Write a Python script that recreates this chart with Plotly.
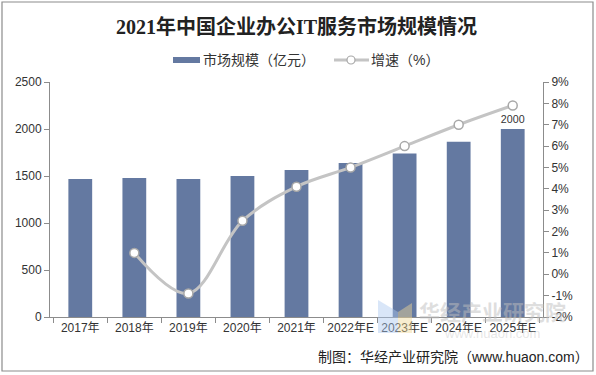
import plotly.graph_objects as go

# ---- data ----
years = ["2017年", "2018年", "2019年", "2020年", "2021年", "2022年E", "2023年E", "2024年E", "2025年E"]
market_size = [1468, 1480, 1468, 1500, 1563, 1637, 1740, 1864, 2000]   # 亿元
growth_rate = [None, 1.0, -0.9, 2.5, 4.1, 5.0, 6.0, 7.0, 7.9]          # %
left_ticks = [0, 500, 1000, 1500, 2000, 2500]
right_ticks = list(range(-2, 10))

W, H = 596, 375
L, R, T, B = 50, 53, 82, 58
PW, PH = W - L - R, H - T - B


def px(x):
    return (x - L) / PW


def py(y):
    return (H - B - y) / PH


bar_labels = ["" for _ in market_size[:-1]] + [str(market_size[-1])]

CJK = "Liberation Sans, Noto Sans CJK SC, sans-serif"

fig = go.Figure()
fig.add_trace(go.Bar(
    x=years, y=market_size, name="市场规模（亿元）",
    marker=dict(color="#6479a1", line=dict(width=0)),
    width=0.44,
    text=bar_labels, textposition="outside", cliponaxis=False,
    textfont=dict(size=12.5, color="#333333", family=CJK),
    showlegend=False, hoverinfo="skip",
))
fig.add_trace(go.Scatter(
    x=years, y=growth_rate, name="增速（%）", yaxis="y2",
    mode="lines+markers",
    line=dict(color="#c4c4c4", width=3, shape="spline", smoothing=1.0),
    marker=dict(symbol="circle", size=9, color="white",
                line=dict(color="#a8a8a8", width=1.5)),
    connectgaps=False, showlegend=False, cliponaxis=False, hoverinfo="skip",
))

shapes = []
annotations = []

# outer frame
shapes.append(dict(type="rect", xref="paper", yref="paper",
                   x0=px(2), x1=px(593), y0=py(2), y1=py(371),
                   line=dict(color="#8c8c8c", width=1.2), fillcolor="rgba(0,0,0,0)", layer="below"))

# watermark
shapes.append(dict(type="path", xref="paper", yref="paper",
                   path=f"M {px(378)},{py(300)} L {px(398)},{py(312)} L {px(398)},{py(333)} L {px(378)},{py(333)} Z",
                   fillcolor="rgba(170,200,240,0.45)", line=dict(width=0), layer="above"))
shapes.append(dict(type="path", xref="paper", yref="paper",
                   path=f"M {px(398)},{py(312)} L {px(412)},{py(303)} L {px(412)},{py(333)} L {px(398)},{py(333)} Z",
                   fillcolor="rgba(240,215,150,0.45)", line=dict(width=0), layer="above"))
annotations.append(dict(text="<b>华经产业研究院</b>", xref="paper", yref="paper",
                        x=px(492), y=py(312), showarrow=False, xanchor="center", yanchor="middle",
                        font=dict(size=21, color="rgba(190,190,190,0.5)", family=CJK)))
annotations.append(dict(text="www.huaon.com", xref="paper", yref="paper",
                        x=px(492), y=py(333), showarrow=False, xanchor="center", yanchor="middle",
                        font=dict(size=13, color="rgba(200,200,200,0.45)", family=CJK)))

# legend (custom)
shapes.append(dict(type="rect", xref="paper", yref="paper",
                   x0=px(173), x1=px(200), y0=py(57), y1=py(63),
                   fillcolor="#6479a1", line=dict(width=0)))
annotations.append(dict(text="市场规模（亿元）", xref="paper", yref="paper",
                        x=px(201), y=py(60), showarrow=False, xanchor="left", yanchor="middle",
                        font=dict(size=14, color="#333333", family=CJK)))
shapes.append(dict(type="line", xref="paper", yref="paper",
                   x0=px(334), x1=px(369), y0=py(60), y1=py(60),
                   line=dict(color="#c4c4c4", width=3)))
shapes.append(dict(type="circle", xref="paper", yref="paper",
                   x0=px(347), x1=px(355), y0=py(56), y1=py(64),
                   fillcolor="white", line=dict(color="#a8a8a8", width=1.2)))
annotations.append(dict(text="增速（%）", xref="paper", yref="paper",
                        x=px(369), y=py(60), showarrow=False, xanchor="left", yanchor="middle",
                        font=dict(size=14, color="#333333", family=CJK)))

# source
annotations.append(dict(text="制图：华经产业研究院（www.huaon.com）", xref="paper", yref="paper",
                        x=px(591), y=py(357), showarrow=False, xanchor="right", yanchor="middle",
                        font=dict(size=14, color="#222222", family=CJK)))

fig.update_layout(
    width=W, height=H,
    margin=dict(l=L, r=R, t=T, b=B, autoexpand=False),
    paper_bgcolor="white", plot_bgcolor="white",
    title=dict(text="<b>2021年中国企业办公IT服务市场规模情况</b>",
               x=0.5, xref="paper", xanchor="center",
               y=1 - 27 / H, yref="container", yanchor="middle",
               font=dict(size=20, color="#222222",
                         family="Liberation Serif, Noto Sans CJK SC, serif")),
    bargap=0.56,
    xaxis=dict(
        type="category", showline=True, linecolor="#8c8c8c", linewidth=1,
        ticks="outside", tickson="boundaries", ticklen=5, tickcolor="#8c8c8c",
        tickangle=0, automargin=False,
        tickfont=dict(size=12, color="#333333", family=CJK),
        showgrid=False, zeroline=False,
    ),
    yaxis=dict(
        range=[0, 2500], tickvals=left_ticks, showline=True, linecolor="#8c8c8c",
        ticks="outside", ticklen=5, tickcolor="#8c8c8c", automargin=False,
        tickfont=dict(size=12, color="#333333", family=CJK),
        showgrid=False, zeroline=False,
    ),
    yaxis2=dict(
        overlaying="y", side="right", range=[-2, 9], tickvals=right_ticks,
        ticktext=[f"{v}%" for v in right_ticks],
        showline=True, linecolor="#8c8c8c", automargin=False,
        ticks="outside", ticklen=5, tickcolor="#8c8c8c",
        tickfont=dict(size=12, color="#333333", family=CJK),
        showgrid=False, zeroline=False,
    ),
    shapes=shapes, annotations=annotations,
)

fig.write_html("out.html", config={"displayModeBar": False},
               post_script="document.body.style.margin='0';")
